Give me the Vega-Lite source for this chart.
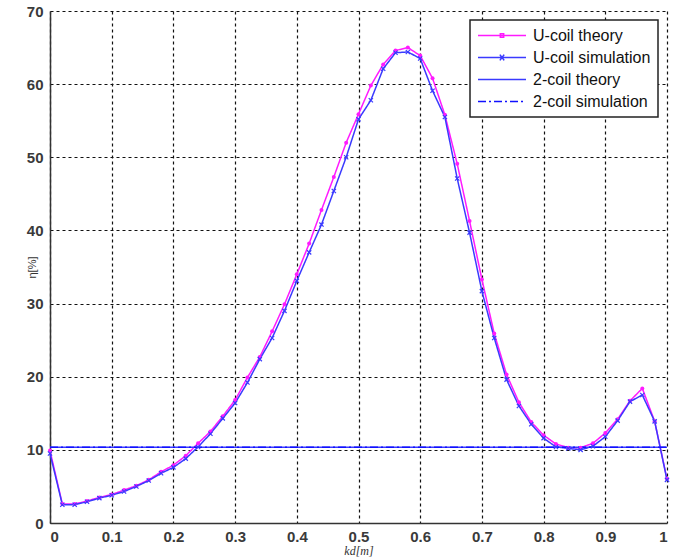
{
  "$schema": "https://vega.github.io/schema/vega-lite/v6.json",
  "width": 617,
  "height": 512,
  "autosize": {"type": "none"},
  "padding": {"left": 50, "top": 11, "right": 26, "bottom": 37},
  "background": "white",
  "config": {
    "view": {"stroke": null},
    "axis": {
      "domainColor": "#333333",
      "domainWidth": 1.5,
      "grid": true,
      "gridColor": "#111111",
      "gridDash": [3, 3],
      "gridWidth": 1.2,
      "ticks": false,
      "labelFont": "Liberation Sans",
      "labelFontSize": 15,
      "labelFontWeight": "bold",
      "labelColor": "#3a3a3a",
      "labelPadding": 6
    }
  },
  "data": {
    "values": [
      {"s": "U-coil theory", "kd": 0.00, "eta": 9.9},
      {"s": "U-coil theory", "kd": 0.02, "eta": 2.6},
      {"s": "U-coil theory", "kd": 0.04, "eta": 2.6},
      {"s": "U-coil theory", "kd": 0.06, "eta": 3.0},
      {"s": "U-coil theory", "kd": 0.08, "eta": 3.5},
      {"s": "U-coil theory", "kd": 0.10, "eta": 3.9},
      {"s": "U-coil theory", "kd": 0.12, "eta": 4.5},
      {"s": "U-coil theory", "kd": 0.14, "eta": 5.1},
      {"s": "U-coil theory", "kd": 0.16, "eta": 5.9},
      {"s": "U-coil theory", "kd": 0.18, "eta": 7.0},
      {"s": "U-coil theory", "kd": 0.20, "eta": 7.9},
      {"s": "U-coil theory", "kd": 0.22, "eta": 9.2},
      {"s": "U-coil theory", "kd": 0.24, "eta": 10.9},
      {"s": "U-coil theory", "kd": 0.26, "eta": 12.5},
      {"s": "U-coil theory", "kd": 0.28, "eta": 14.6},
      {"s": "U-coil theory", "kd": 0.30, "eta": 16.8},
      {"s": "U-coil theory", "kd": 0.32, "eta": 19.9},
      {"s": "U-coil theory", "kd": 0.34, "eta": 22.7},
      {"s": "U-coil theory", "kd": 0.36, "eta": 26.2},
      {"s": "U-coil theory", "kd": 0.38, "eta": 29.9},
      {"s": "U-coil theory", "kd": 0.40, "eta": 34.0},
      {"s": "U-coil theory", "kd": 0.42, "eta": 38.2},
      {"s": "U-coil theory", "kd": 0.44, "eta": 42.8},
      {"s": "U-coil theory", "kd": 0.46, "eta": 47.3},
      {"s": "U-coil theory", "kd": 0.48, "eta": 52.0},
      {"s": "U-coil theory", "kd": 0.50, "eta": 55.9},
      {"s": "U-coil theory", "kd": 0.52, "eta": 59.8},
      {"s": "U-coil theory", "kd": 0.54, "eta": 62.7},
      {"s": "U-coil theory", "kd": 0.56, "eta": 64.6},
      {"s": "U-coil theory", "kd": 0.58, "eta": 65.0},
      {"s": "U-coil theory", "kd": 0.60, "eta": 63.9},
      {"s": "U-coil theory", "kd": 0.62, "eta": 60.8},
      {"s": "U-coil theory", "kd": 0.64, "eta": 55.8},
      {"s": "U-coil theory", "kd": 0.66, "eta": 49.1},
      {"s": "U-coil theory", "kd": 0.68, "eta": 41.3},
      {"s": "U-coil theory", "kd": 0.70, "eta": 33.3},
      {"s": "U-coil theory", "kd": 0.72, "eta": 25.9},
      {"s": "U-coil theory", "kd": 0.74, "eta": 20.3},
      {"s": "U-coil theory", "kd": 0.76, "eta": 16.5},
      {"s": "U-coil theory", "kd": 0.78, "eta": 13.8},
      {"s": "U-coil theory", "kd": 0.80, "eta": 12.0},
      {"s": "U-coil theory", "kd": 0.82, "eta": 10.8},
      {"s": "U-coil theory", "kd": 0.84, "eta": 10.3},
      {"s": "U-coil theory", "kd": 0.86, "eta": 10.3},
      {"s": "U-coil theory", "kd": 0.88, "eta": 10.9},
      {"s": "U-coil theory", "kd": 0.90, "eta": 12.3},
      {"s": "U-coil theory", "kd": 0.92, "eta": 14.2},
      {"s": "U-coil theory", "kd": 0.94, "eta": 16.7},
      {"s": "U-coil theory", "kd": 0.96, "eta": 18.4},
      {"s": "U-coil theory", "kd": 0.98, "eta": 13.9},
      {"s": "U-coil theory", "kd": 1.00, "eta": 6.0},
      {"s": "U-coil simulation", "kd": 0.00, "eta": 9.5},
      {"s": "U-coil simulation", "kd": 0.02, "eta": 2.5},
      {"s": "U-coil simulation", "kd": 0.04, "eta": 2.5},
      {"s": "U-coil simulation", "kd": 0.06, "eta": 2.9},
      {"s": "U-coil simulation", "kd": 0.08, "eta": 3.4},
      {"s": "U-coil simulation", "kd": 0.10, "eta": 3.8},
      {"s": "U-coil simulation", "kd": 0.12, "eta": 4.3},
      {"s": "U-coil simulation", "kd": 0.14, "eta": 5.0},
      {"s": "U-coil simulation", "kd": 0.16, "eta": 5.8},
      {"s": "U-coil simulation", "kd": 0.18, "eta": 6.8},
      {"s": "U-coil simulation", "kd": 0.20, "eta": 7.6},
      {"s": "U-coil simulation", "kd": 0.22, "eta": 8.8},
      {"s": "U-coil simulation", "kd": 0.24, "eta": 10.4},
      {"s": "U-coil simulation", "kd": 0.26, "eta": 12.2},
      {"s": "U-coil simulation", "kd": 0.28, "eta": 14.3},
      {"s": "U-coil simulation", "kd": 0.30, "eta": 16.4},
      {"s": "U-coil simulation", "kd": 0.32, "eta": 19.2},
      {"s": "U-coil simulation", "kd": 0.34, "eta": 22.4},
      {"s": "U-coil simulation", "kd": 0.36, "eta": 25.3},
      {"s": "U-coil simulation", "kd": 0.38, "eta": 29.0},
      {"s": "U-coil simulation", "kd": 0.40, "eta": 33.1},
      {"s": "U-coil simulation", "kd": 0.42, "eta": 37.0},
      {"s": "U-coil simulation", "kd": 0.44, "eta": 40.8},
      {"s": "U-coil simulation", "kd": 0.46, "eta": 45.4},
      {"s": "U-coil simulation", "kd": 0.48, "eta": 50.0},
      {"s": "U-coil simulation", "kd": 0.50, "eta": 55.2},
      {"s": "U-coil simulation", "kd": 0.52, "eta": 57.8},
      {"s": "U-coil simulation", "kd": 0.54, "eta": 62.1},
      {"s": "U-coil simulation", "kd": 0.56, "eta": 64.3},
      {"s": "U-coil simulation", "kd": 0.58, "eta": 64.4},
      {"s": "U-coil simulation", "kd": 0.60, "eta": 63.5},
      {"s": "U-coil simulation", "kd": 0.62, "eta": 59.1},
      {"s": "U-coil simulation", "kd": 0.64, "eta": 55.5},
      {"s": "U-coil simulation", "kd": 0.66, "eta": 47.1},
      {"s": "U-coil simulation", "kd": 0.68, "eta": 39.7},
      {"s": "U-coil simulation", "kd": 0.70, "eta": 31.7},
      {"s": "U-coil simulation", "kd": 0.72, "eta": 25.3},
      {"s": "U-coil simulation", "kd": 0.74, "eta": 19.6},
      {"s": "U-coil simulation", "kd": 0.76, "eta": 16.0},
      {"s": "U-coil simulation", "kd": 0.78, "eta": 13.5},
      {"s": "U-coil simulation", "kd": 0.80, "eta": 11.6},
      {"s": "U-coil simulation", "kd": 0.82, "eta": 10.4},
      {"s": "U-coil simulation", "kd": 0.84, "eta": 10.2},
      {"s": "U-coil simulation", "kd": 0.86, "eta": 10.0},
      {"s": "U-coil simulation", "kd": 0.88, "eta": 10.5},
      {"s": "U-coil simulation", "kd": 0.90, "eta": 11.8},
      {"s": "U-coil simulation", "kd": 0.92, "eta": 14.0},
      {"s": "U-coil simulation", "kd": 0.94, "eta": 16.6},
      {"s": "U-coil simulation", "kd": 0.96, "eta": 17.5},
      {"s": "U-coil simulation", "kd": 0.98, "eta": 13.9},
      {"s": "U-coil simulation", "kd": 1.00, "eta": 5.9},
      {"s": "2-coil theory", "kd": 0.0, "eta": 10.35},
      {"s": "2-coil theory", "kd": 1.0, "eta": 10.35},
      {"s": "2-coil simulation", "kd": 0.0, "eta": 10.35},
      {"s": "2-coil simulation", "kd": 1.0, "eta": 10.35}
    ]
  },
  "encoding": {
    "x": {
      "field": "kd",
      "type": "quantitative",
      "scale": {"domain": [0, 1], "nice": false},
      "axis": {
        "values": [0, 0.1, 0.2, 0.3, 0.4, 0.5, 0.6, 0.7, 0.8, 0.9, 1],
        "format": "~g",
        "title": "kd[m]",
        "titleFont": "Liberation Serif",
        "titleFontStyle": "italic",
        "titleFontWeight": "normal",
        "titleFontSize": 12,
        "titleColor": "#333333",
        "titlePadding": 1
      }
    },
    "y": {
      "field": "eta",
      "type": "quantitative",
      "scale": {"domain": [0, 70], "nice": false},
      "axis": {
        "values": [0, 10, 20, 30, 40, 50, 60, 70],
        "labelPadding": 7,
        "title": "η[%]",
        "titleFont": "Liberation Sans",
        "titleFontWeight": "normal",
        "titleFontSize": 11,
        "titleColor": "#333333",
        "titleX": -18,
        "titleY": 256,
        "titleBaseline": "middle",
        "titleAlign": "center"
      }
    }
  },
  "layer": [
    {
      "mark": {"type": "line"},
      "encoding": {
        "color": {
          "field": "s",
          "type": "nominal",
          "scale": {
            "domain": ["U-coil theory", "U-coil simulation", "2-coil theory", "2-coil simulation"],
            "range": ["#ff1aff", "#3a3aff", "#3a3aff", "#1010ff"]
          },
          "legend": {
            "title": null,
            "orient": "none",
            "legendX": 420,
            "legendY": 9,
            "symbolType": "stroke",
            "symbolSize": 2304,
            "symbolStrokeWidth": 1.5,
            "clipHeight": 17,
            "labelFont": "Liberation Sans",
            "labelFontSize": 16,
            "labelColor": "#111111",
            "labelOffset": 6,
            "padding": 7,
            "rowPadding": 5,
            "strokeColor": "#222222",
            "fillColor": "#ffffff",
            "cornerRadius": 0,
            "encode": {
              "legend": {"update": {"strokeWidth": {"value": 1.5}}},
              "symbols": {
                "update": {
                  "shape": {"signal": "datum.value == 'U-coil theory' ? 'M-1,0H1M-0.07,-0.07H0.07V0.07H-0.07Z' : (datum.value == 'U-coil simulation' ? 'M-1,0H1M-0.09,-0.12L0.09,0.12M-0.09,0.12L0.09,-0.12' : 'M-1,0H1')"}
                }
              }
            }
          }
        },
        "strokeDash": {
          "field": "s",
          "type": "nominal",
          "scale": {
            "domain": ["U-coil theory", "U-coil simulation", "2-coil theory", "2-coil simulation"],
            "range": [[1, 0], [1, 0], [1, 0], [8, 3, 2, 3]]
          },
          "legend": null
        },
        "strokeWidth": {
          "field": "s",
          "type": "nominal",
          "scale": {
            "domain": ["U-coil theory", "U-coil simulation", "2-coil theory", "2-coil simulation"],
            "range": [1.5, 1.5, 1.5, 2.5]
          },
          "legend": null
        }
      }
    },
    {
      "transform": [{"filter": "datum.s == 'U-coil theory'"}],
      "mark": {"type": "point", "filled": true, "size": 16, "color": "#ff1aff", "opacity": 1}
    },
    {
      "transform": [{"filter": "datum.s == 'U-coil simulation'"}],
      "mark": {"type": "point", "shape": "M-1,-1L1,1M-1,1L1,-1", "filled": false, "size": 18, "color": "#3a3aff", "strokeWidth": 1.2, "opacity": 1}
    }
  ]
}
